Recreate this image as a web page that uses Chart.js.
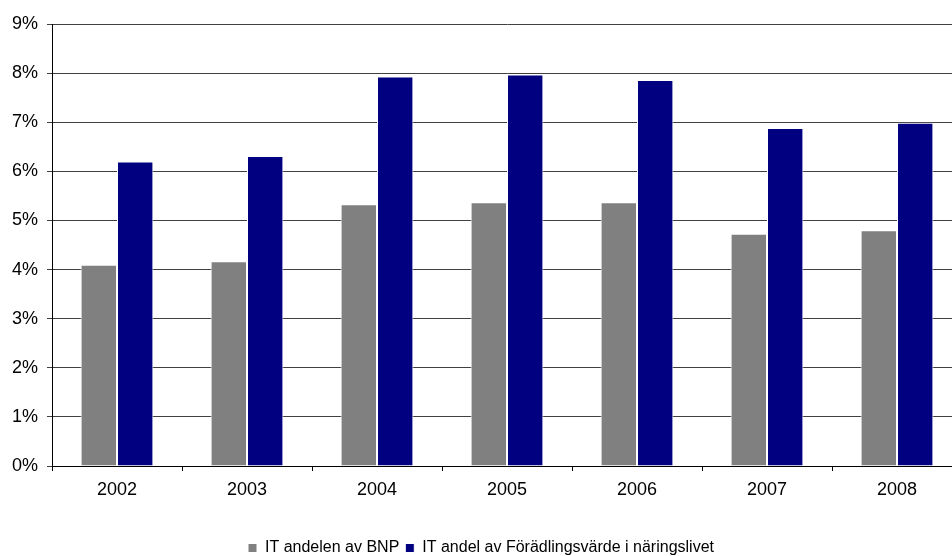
<!DOCTYPE html>
<html>
<head>
<meta charset="utf-8">
<script src="https://cdn.jsdelivr.net/npm/chart.js@4.4.0/dist/chart.umd.min.js"></script>
<style>
  html, body { margin: 0; padding: 0; background: #fff; overflow: hidden; }
  #wrap { width: 970px; height: 566px; }
</style>
</head>
<body>
<div id="wrap"><canvas id="chart" width="970" height="566"></canvas></div>
<script>
  const years = ["2002", "2003", "2004", "2005", "2006", "2007", "2008"];
  const itShareGdp = [4.10, 4.17, 5.33, 5.37, 5.37, 4.73, 4.80];
  const itShareValueAdded = [6.20, 6.31, 7.93, 7.97, 7.86, 6.88, 6.99];
  const seriesLabels = ["IT andelen av BNP", "IT andel av Förädlingsvärde i näringslivet"];

  Chart.defaults.font.family = "'Liberation Sans', Arial, sans-serif";
  Chart.defaults.color = "#000";

  // canvas is a bit wider and taller than the window: the reference crops the last category
  new Chart(document.getElementById("chart").getContext("2d"), {
    type: "bar",
    data: {
      labels: years,
      datasets: [
        { label: seriesLabels[0], data: itShareGdp, backgroundColor: "#808080",
          borderColor: "#fff", borderWidth: 1, borderSkipped: "bottom" },
        { label: seriesLabels[1], data: itShareValueAdded, backgroundColor: "#000080",
          borderColor: "#fff", borderWidth: 1, borderSkipped: "bottom" },
      ],
    },
    options: {
      responsive: false,
      animation: false,
      devicePixelRatio: 1,
      layout: { padding: { top: 24, right: 8, left: 0, bottom: 0 } },
      datasets: { bar: { categoryPercentage: 0.56, barPercentage: 1 } },
      plugins: {
        tooltip: { enabled: false },
        legend: {
          position: "bottom",
          labels: {
            boxWidth: 9, boxHeight: 9, padding: 6,
            font: { size: 16 }, color: "#000",
          },
        },
      },
      scales: {
        x: {
          grid: { drawOnChartArea: false, drawTicks: true, tickLength: 5, color: "#000", offset: true },
          border: { color: "#000", width: 1 },
          ticks: { font: { size: 18 }, color: "#000", padding: 8 },
          afterFit: (s) => { s.height = 68; },
        },
        y: {
          min: 0,
          max: 9,
          grid: { color: "#404040", lineWidth: 1, drawTicks: true, tickLength: 5 },
          border: { color: "#000", width: 1 },
          ticks: {
            stepSize: 1, font: { size: 18 }, color: "#000", padding: 9,
            callback: (v) => v + "%",
          },
          afterFit: (s) => { s.width = 52; },
        },
      },
    },
  });
</script>
</body>
</html>
